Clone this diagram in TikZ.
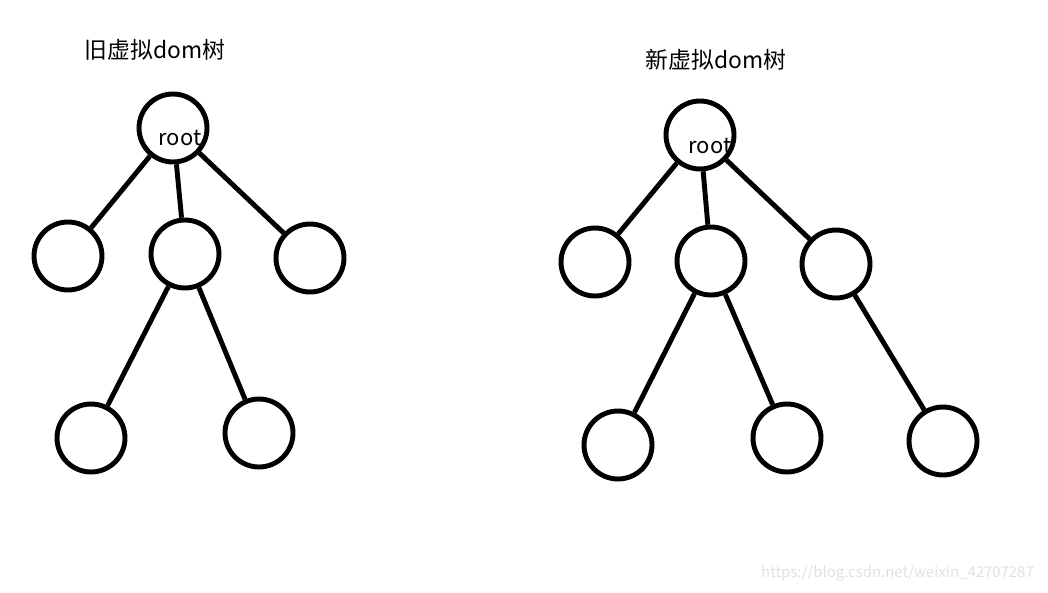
\documentclass[tikz,border=0pt]{standalone}
\usepackage{fontspec}
\setmainfont{Noto Sans CJK SC}
\usetikzlibrary{positioning}

\begin{document}
\begin{tikzpicture}[
  x=0.02cm, y=-0.02cm,
  vnode/.style={draw, circle, line width=2.8pt, minimum size=1.36cm, inner sep=0pt},
  title/.style={font=\fontsize{13}{15}\selectfont},
  tag/.style={font=\fontsize{12.5}{14}\selectfont, inner sep=0pt},
  edge/.style={line width=2.8pt}
]
  \useasboundingbox (0,0) rectangle (1048,592);

  % old tree
  \node[title] (oldT) at (155,50) {旧虚拟dom树};
  \node[vnode] (oR)  at (173,128) {};
  \node[vnode] (oA)  at (68,256)  {};
  \node[vnode] (oB)  at (185,254) {};
  \node[vnode] (oC)  at (310,258) {};
  \node[vnode] (oB1) at (91,438)  {};
  \node[vnode] (oB2) at (259,433) {};
  \node[tag] (oRt) at (180,138) {root};

  \draw[edge] (oR) -- (oA);
  \draw[edge] (oR) -- (oB);
  \draw[edge] (oR) -- (oC);
  \draw[edge] (oB) -- (oB1);
  \draw[edge] (oB) -- (oB2);

  % new tree
  \node[title] (newT) at (716,60) {新虚拟dom树};
  \node[vnode] (nR)  at (700,135) {};
  \node[vnode] (nA)  at (595,262) {};
  \node[vnode] (nB)  at (711,261) {};
  \node[vnode] (nC)  at (836,264) {};
  \node[vnode] (nB1) at (618,445) {};
  \node[vnode] (nB2) at (787,438) {};
  \node[vnode] (nC1) at (943,441) {};
  \node[tag] (nRt) at (710,146) {root};

  \draw[edge] (nR) -- (nA);
  \draw[edge] (nR) -- (nB);
  \draw[edge] (nR) -- (nC);
  \draw[edge] (nB) -- (nB1);
  \draw[edge] (nB) -- (nB2);
  \draw[edge] (nC) -- (nC1);

  \node[font=\fontsize{8.5}{10}\selectfont, text=black!12, anchor=east] (mark) at (1040,573) {https://blog.csdn.net/weixin\_42707287};
\end{tikzpicture}
\end{document}
